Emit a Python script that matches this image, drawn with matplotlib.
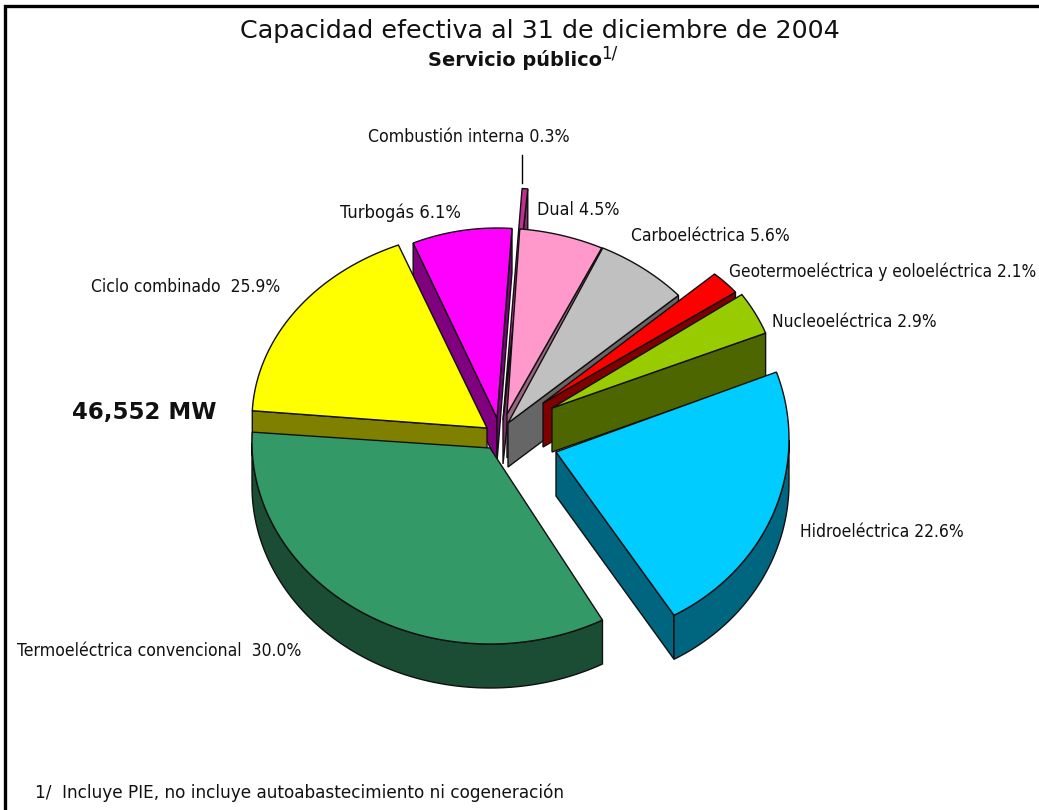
import numpy as np
import matplotlib
matplotlib.use("Agg")
import matplotlib.pyplot as plt
from matplotlib.patches import Polygon

# ---- data (clockwise from the top) ----
names = ["Combustión interna", "Dual", "Carboeléctrica",
         "Geotermoeléctrica y eoloeléctrica", "Nucleoeléctrica", "Hidroeléctrica",
         "Termoeléctrica convencional", "Ciclo combinado", "Turbogás"]
shares = [0.3, 4.5, 5.6, 2.1, 2.9, 22.6, 30.0, 25.9, 6.1]
total_label = "46,552 MW"
title_1 = "Capacidad efectiva al 31 de diciembre de 2004"
title_2 = "Servicio público"
footnote = "1/  Incluye PIE, no incluye autoabastecimiento ni cogeneración"

# ---- style / layout ----
top_colors = ["#C0308F", "#FF99CC", "#C0C0C0", "#FF0000", "#99CC00", "#00CCFF", "#339966", "#FFFF00", "#FF00FF"]
wall_colors = ["#80306A", "#996680", "#666666", "#800000", "#4D6600", "#006680", "#1A4D33", "#808000", "#800080"]
# ellipse centre/radii and apex of each exploded slice (pixels)
geom = [(505, 396, 245, 208, 503, 420), (497, 436, 245, 208, 507, 414), (498, 436, 245, 208, 508, 423),
        (565, 366, 203, 136, 543, 403), (547, 395, 232, 185, 552, 408), (571, 439, 218, 200, 556, 452),
        (490, 442, 238, 202, 490, 448), (492, 420, 240, 190, 487, 428), (497, 418, 215, 190, 497, 418)]
depth = 44
paint_order = [8, 0, 1, 2, 3, 4, 7, 6, 5]
warp_deg = [0, 17, 37.4, 55.4, 136.8, 244.8, 338, 360]
warp_off = [4, 8, 10, 15, 15, 28, -1, 4]

fig = plt.figure(figsize=(10.39, 8.10), dpi=100, facecolor="white")
ax = fig.add_axes([0, 0, 1, 1])
ax.set_xlim(0, 1039)
ax.set_ylim(810, 0)
ax.axis("off")

edges = np.concatenate([[0], np.cumsum(shares)]) * 3.6
def screen_angle(d):
    return d + np.interp(d, warp_deg, warp_off)

def radial_visible(v, tip, inner):
    """The cut face shows when the wedge lies above the cut on screen."""
    tx, ty = tip - v
    ix, iy = inner - v
    cross = tx * iy - ty * ix
    return (cross < 0) == (tx > 0)

for i in paint_order:
    cx, cy, rx, ry, vx, vy = geom[i]
    a0, a1 = screen_angle(edges[i]), screen_angle(edges[i + 1])
    th = np.radians(np.linspace(a0, a1, 120))
    rim = np.column_stack([cx + rx * np.sin(th), cy - ry * np.cos(th)])
    v = np.array([vx, vy], float)
    d = np.array([0, depth], float)
    lw = 1.0
    z = 2 + paint_order.index(i)
    mid = rim[len(rim) // 2]
    for tip in (rim[0], rim[-1]):
        if radial_visible(v, tip, mid):
            ax.add_patch(Polygon([v, tip, tip + d, v + d], closed=True, fc=wall_colors[i],
                                 ec="#101010", lw=lw, zorder=z))
    front = rim[np.cos(th) < 0]
    if len(front) > 1:
        ax.add_patch(Polygon(np.vstack([front, (front + d)[::-1]]), closed=True, fc=wall_colors[i],
                             ec="#101010", lw=lw, zorder=z))
    ax.add_patch(Polygon(np.vstack([v, rim]), closed=True, fc=top_colors[i], ec="#101010", lw=lw, zorder=z + 0.5))

ax.plot([522, 522], [155, 183], color="black", lw=1, zorder=1)

fig.canvas.draw()
rend = fig.canvas.get_renderer()
def place(s, x0, x1, yc, **kw):
    t = ax.text(x0, yc, s, ha="left", va="center", fontsize=12, color="#111111", zorder=30, **kw)
    w = t.get_window_extent(rend).width
    t.set_fontsize(12 * (x1 - x0) / w)
    return t

def pct(i):
    return f"{shares[i]:.1f}%"

place(f"{names[0]} {pct(0)}", 368, 570, 137, stretch="condensed")
place(f"{names[1]} {pct(1)}", 537, 619, 210, stretch="condensed")
place(f"{names[2]} {pct(2)}", 631, 789, 236, stretch="condensed")
place(f"{names[3]} {pct(3)}", 729, 1037, 272, stretch="condensed")
place(f"{names[4]} {pct(4)}", 772, 937, 322, stretch="condensed")
place(f"{names[5]} {pct(5)}", 800, 963, 532, stretch="condensed")
place(f"{names[6]}  {pct(6)}", 17, 301, 651, stretch="condensed")
place(f"{names[7]}  {pct(7)}", 91, 280, 287, stretch="condensed")
place(f"{names[8]} {pct(8)}", 340, 461, 213, stretch="condensed")
place(total_label, 72, 216, 412, fontweight="bold")
place(title_1, 240, 838, 31)
place(title_2, 428, 601, 60, fontweight="bold")
ax.text(601, 53, "1/", fontsize=12, ha="left", va="center", color="#111111")
place(footnote, 35, 562, 793)

# frame
ax.plot([5, 5, 1039], [810, 6, 6], color="black", lw=2.4, solid_joinstyle="miter", zorder=40)

fig.savefig("out.png", dpi=100, facecolor="white")
